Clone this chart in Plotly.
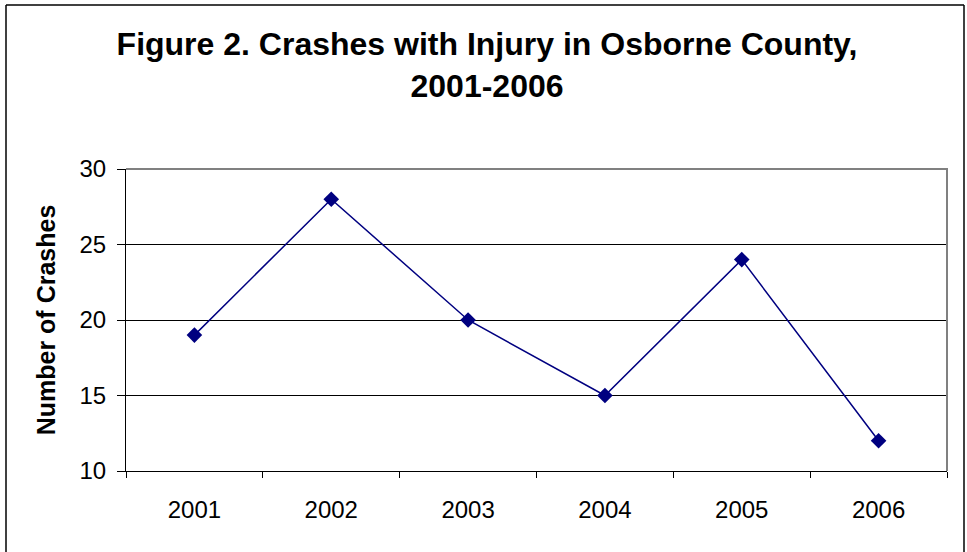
import plotly.graph_objects as go

years = ["2001", "2002", "2003", "2004", "2005", "2006"]
crashes = [19, 28, 20, 15, 24, 12]
y_ticks = [10, 15, 20, 25, 30]
title_text = "Figure 2. Crashes with Injury in Osborne County,<br>2001-2006"
y_title = "Number of Crashes"

xpos = list(range(1, len(years) + 1))

W, H = 967, 552
L, T, R, B = 126, 169, 20, 81
PW, PH = W - L - R, H - T - B


def px(fx):
    return (fx - L) / PW


def py(fy):
    return 1 - (fy - T) / PH


fig = go.Figure(go.Scatter(
    x=xpos, y=crashes, mode="lines+markers",
    line=dict(color="#000080", width=1.5),
    marker=dict(symbol="diamond", size=12, color="#000080"),
))

fig.update_layout(
    width=W, height=H,
    margin=dict(l=L, r=R, t=T, b=B),
    paper_bgcolor="white", plot_bgcolor="white",
    showlegend=False,
    font=dict(family="Liberation Sans, Arial", color="black"),
    title=dict(text="<b>" + title_text + "</b>", x=487 / W, xanchor="center",
               xref="container", y=1 - 55 / H, yanchor="top", yref="container",
               font=dict(size=32, color="black")),
)
fig.update_xaxes(
    range=[0.5, len(years) + 0.5], tickvals=xpos, ticktext=years,
    ticks="", showgrid=False, zeroline=False,
    showline=True, linecolor="black", linewidth=1,
    tickfont=dict(size=24), ticklabelstandoff=17,
    minor=dict(ticks="outside", tick0=0.5, dtick=1, ticklen=6,
               tickcolor="black", showgrid=False),
)
fig.update_yaxes(
    range=[10, 30], tickvals=y_ticks, ticks="outside", ticklen=8,
    tickcolor="black", showgrid=True, gridcolor="black", gridwidth=1,
    zeroline=False, showline=True, linecolor="black", linewidth=1,
    tickfont=dict(size=24), ticklabelstandoff=6,
    title=dict(text="<b>" + y_title + "</b>", font=dict(size=25), standoff=16),
)
# gray plot-area border on top and right sides
fig.add_shape(type="path", xref="x domain", yref="y domain",
              path="M 0 1 L 1 1 L 1 0", line=dict(color="#808080", width=2),
              layer="above")
# outer chart border lines (open at the bottom)
for x0, y0, x1, y1 in [(6, 5, 6, H + 20), (6, 5, 964, 5), (964, 5, 964, H + 20)]:
    fig.add_shape(type="line", xref="paper", yref="paper",
                  x0=px(x0), y0=py(y0), x1=px(x1), y1=py(y1),
                  line=dict(color="black", width=1.5), layer="above")

fig.write_html("out.html",
               config={"displayModeBar": False},
               post_script="document.body.style.margin='0';document.body.style.overflow='hidden';")
